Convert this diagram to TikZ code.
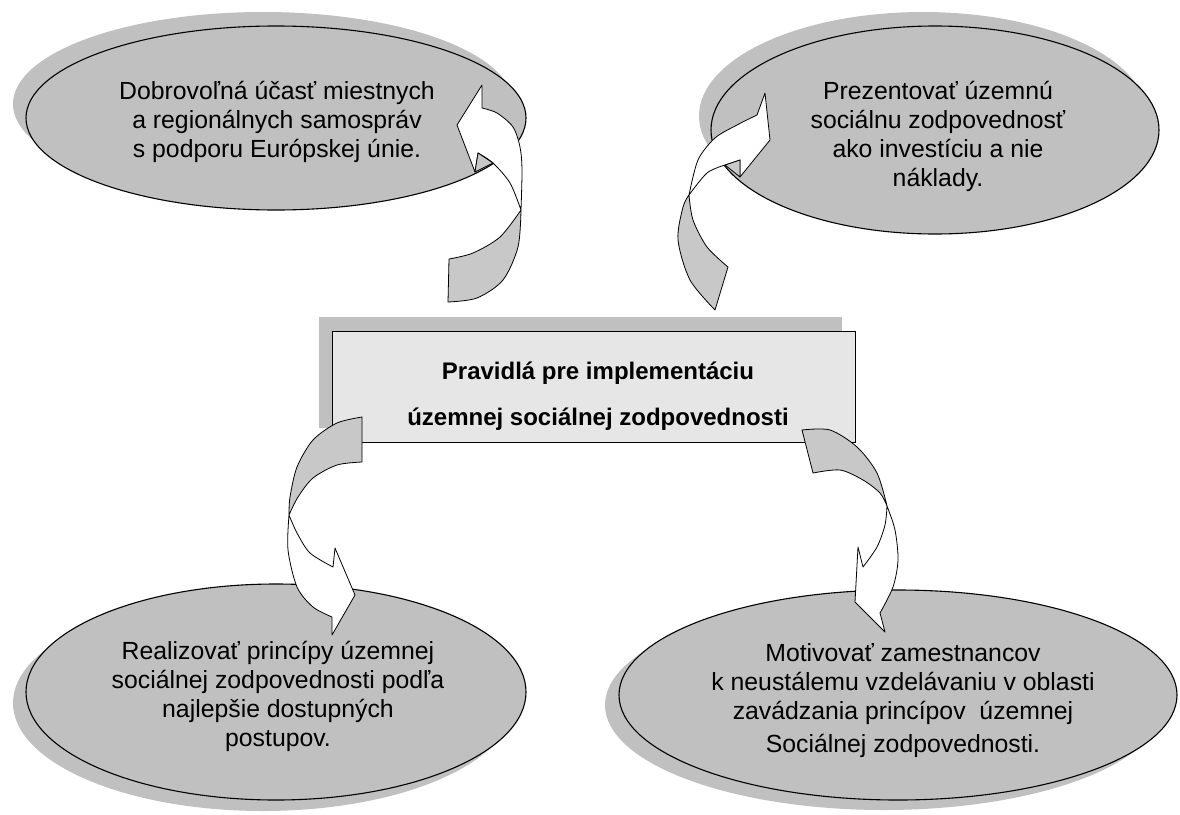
\documentclass[tikz,border=0pt]{standalone}
\usepackage{fontspec}
\setmainfont{Liberation Sans}
\usetikzlibrary{shapes.geometric}
\definecolor{bubblegray}{rgb}{0.753, 0.753, 0.753}
\definecolor{boxgray}{rgb}{0.902, 0.902, 0.902}
\definecolor{backgray}{rgb}{0.784, 0.784, 0.784}

\tikzset{
    bubble/.style={ellipse, draw, line width=1.1pt, fill=bubblegray, inner sep=0pt},
    bubbleshadow/.style={ellipse, fill=bubblegray, inner sep=0pt},
    bubbletext/.style={align=center, inner sep=0pt, font=\fontsize{24.8}{29}\selectfont},
    rulebox/.style={rectangle, draw, line width=1.1pt, fill=boxgray, minimum width=523pt, minimum height=111pt},
    ruletext/.style={align=center, inner sep=0pt, font=\bfseries\fontsize{24}{46}\selectfont},
    arrfront/.style={draw, line width=0.8pt, fill=white, line join=round},
    arrback/.style={draw, line width=0.8pt, fill=backgray, line join=round}
}

\begin{document}
\begin{tikzpicture}
        \begin{scope}[x=1pt, y=-1pt]
        \useasboundingbox (0,0) rectangle (1180,814);

        \node (TLs) [bubbleshadow, minimum width=500pt, minimum height=184pt] at (263,104) {};
        \node (TRs) [bubbleshadow, minimum width=448pt, minimum height=208pt] at (923,116) {};
        \node (BLs) [bubbleshadow, minimum width=500pt, minimum height=216pt] at (263,703) {};
        \node (BRs) [bubbleshadow, minimum width=558pt, minimum height=210pt] at (884,705) {};
        \node (rulesS) [rectangle, fill=bubblegray, minimum width=523pt, minimum height=111pt] at (580,372) {};

        \node (TL) [bubble, minimum width=500pt, minimum height=184pt] at (276,118) {};
        \node (TR) [bubble, minimum width=448pt, minimum height=208pt] at (935,130) {};
        \node (BL) [bubble, minimum width=500pt, minimum height=216pt] at (276,692) {};
        \node (BR) [bubble, minimum width=558pt, minimum height=210pt] at (898,695) {};
        \node (rules) [rulebox] at (594,387) {};

        \node (TLtext) [bubbletext] at (277,122)
            {Dobrovoľná účasť miestnych\\ a regionálnych samospráv\\ s podporu Európskej únie.};
        \node (TRtext) [bubbletext] at (938,136)
            {Prezentovať územnú\\ sociálnu zodpovednosť\\ ako investíciu a nie\\ náklady.};
        \node (BLtext) [bubbletext] at (278,696)
            {Realizovať princípy územnej\\ sociálnej zodpovednosti podľa\\ najlepšie dostupných\\ postupov.};
        \node (BRtext) [bubbletext] at (903,701)
            {Motivovať zamestnancov\\ k neustálemu vzdelávaniu v oblasti\\ zavádzania princípov\ \ územnej\\[4pt] Sociálnej zodpovednosti.};
        \node (rulestext) [ruletext] at (598,396) {Pravidlá pre implementáciu\\ územnej sociálnej zodpovednosti};

        % top left arrow
        \filldraw [arrback] plot [smooth] coordinates {(449,259) (473,253) (500,237) (521,210)}
            -- plot [smooth] coordinates {(521,210) (518,247) (503,280) (477,298) (448,302)} -- cycle;
        \filldraw [arrfront] plot [smooth] coordinates {(521,210) (522,170) (520,147) (513,127) (497,113) (482,108)}
            -- (482,85) -- (457,125) -- (475,172) -- (478,153)
            -- plot [smooth] coordinates {(478,153) (493,163) (510,183) (521,210)} -- cycle;
        \filldraw [arrback] (478,153) -- (493,163) -- (475,172) -- cycle;

        % top right arrow
        \filldraw [arrback] plot [smooth] coordinates {(689,195) (683,207) (678,240) (690,280) (715,310)}
            -- plot [smooth] coordinates {(728,267) (707,247) (693,220) (689,195)} -- cycle;
        \filldraw [arrfront] plot [smooth] coordinates {(689,195) (698,160) (715,138) (737,125) (757,115)}
            -- (765,93) -- (770,140) -- (740,177) -- (740,160)
            -- plot [smooth] coordinates {(725,165) (707,173) (689,195)} -- cycle;
        \filldraw [arrback] (725,165) -- (740,160) -- (740,177) -- cycle;

        % bottom left arrow
        \filldraw [arrback] plot [smooth] coordinates {(362,417) (337,423) (313,440) (297,467) (290,497) (289,515)}
            -- plot [smooth] coordinates {(289,515) (298,497) (313,478) (337,465) (362,462)} -- cycle;
        \filldraw [arrfront] plot [smooth] coordinates {(289,515) (288,550) (297,587) (313,607) (332,617)}
            -- (332,635) -- (355,595) -- (335,548) -- (333,567)
            -- plot [smooth] coordinates {(333,567) (310,553) (297,533) (289,515)} -- cycle;

        % bottom right arrow
        \filldraw [arrback] plot [smooth] coordinates {(802,430) (830,430) (857,447) (877,473) (887,506)}
            -- plot [smooth] coordinates {(887,506) (880,493) (863,480) (840,470) (813,473)} -- cycle;
        \filldraw [arrfront] plot [smooth] coordinates {(887,506) (895,530) (898,560) (893,587) (880,613)}
            -- (885,632) -- (855,602) -- (858,547) -- (863,567)
            -- plot [smooth] coordinates {(863,567) (877,547) (885,525) (887,506)} -- cycle;
        \end{scope}
    \end{tikzpicture}
\end{document}
